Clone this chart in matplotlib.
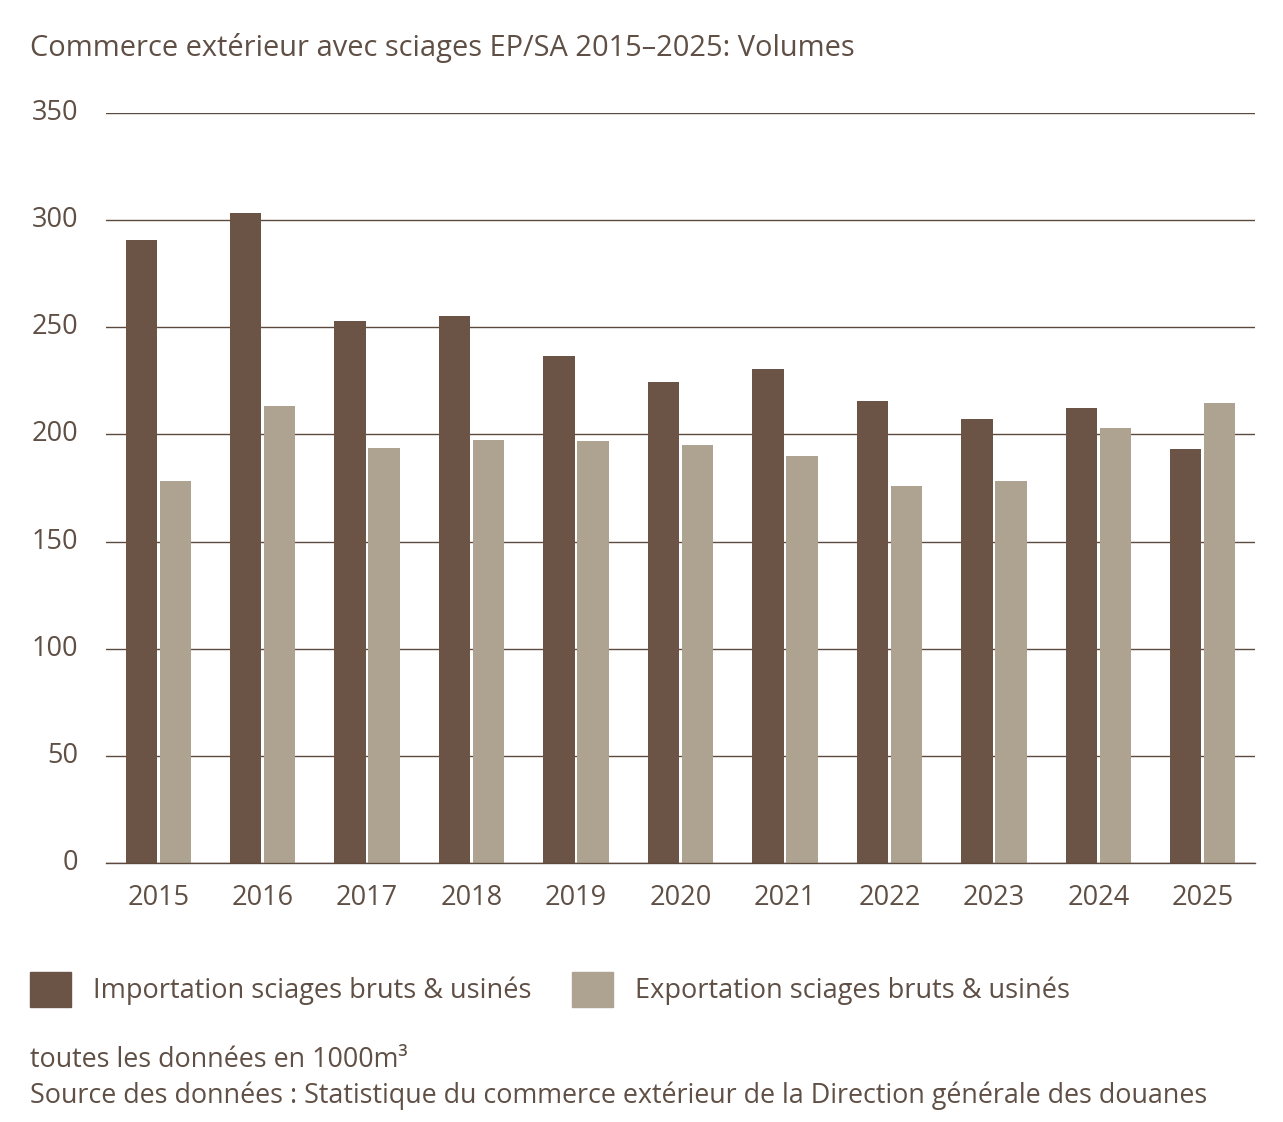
import matplotlib
matplotlib.use("Agg")
import matplotlib.pyplot as plt
from matplotlib.patches import Rectangle
import numpy as np

years = ["2015", "2016", "2017", "2018", "2019", "2020", "2021", "2022", "2023", "2024", "2025"]
imports = [290.7, 303.3, 252.9, 255.3, 236.6, 224.5, 230.5, 215.6, 207.2, 212.3, 193.2]
exports = [178.3, 213.3, 193.7, 197.4, 196.9, 195.1, 189.9, 175.9, 178.3, 203.0, 214.7]
yticks = [0, 50, 100, 150, 200, 250, 300, 350]

title = "Commerce extérieur avec sciages EP/SA 2015–2025: Volumes"
label_imp = "Importation sciages bruts & usinés"
label_exp = "Exportation sciages bruts & usinés"
note1 = "toutes les données en 1000m³"
note2 = "Source des données : Statistique du commerce extérieur de la Direction générale des douanes"

c_imp = "#6B5345"
c_exp = "#ADA390"
c_txt = "#5F4F45"
c_grid = "#5C4A3E"

plt.rcParams['font.family'] = ['Open Sans', 'DejaVu Sans']

W, H = 1283, 1122
fig = plt.figure(figsize=(W / 100, H / 100), dpi=100)
ax = fig.add_axes([106 / W, 1 - 863 / H, (1255 - 106) / W, (863 - 113) / H])

x = np.arange(len(years))
bw = 0.30
off = 0.163
ax.bar(x - off, imports, width=bw, color=c_imp, zorder=3)
ax.bar(x + off, exports, width=bw, color=c_exp, zorder=3)

ax.set_xlim(-0.5, len(years) - 0.5)
ax.set_ylim(0, 350)
ax.set_yticks(yticks)
ax.set_yticklabels([str(v) for v in yticks])
ax.set_xticks(x)
ax.set_xticklabels(years)
ax.tick_params(axis='both', length=0, colors=c_txt, labelsize=19.5)
ax.tick_params(axis='y', pad=20)
ax.tick_params(axis='x', pad=15)
for lab in ax.get_yticklabels():
    lab.set_va('center')
ax.yaxis.grid(True, color=c_grid, linewidth=1.0, zorder=0)
for s in ['top', 'right', 'left']:
    ax.spines[s].set_visible(False)
ax.spines['bottom'].set_color(c_grid)
ax.spines['bottom'].set_linewidth(1.0)
ax.spines['bottom'].set_zorder(4)

fig.text(30 / W, 1 - 48 / H, title, fontsize=20.85, color=c_txt, va='center', ha='left')

# legend
for (x0, col, lab) in [(30, c_imp, label_imp), (572, c_exp, label_exp)]:
    fig.patches.append(Rectangle((x0 / W, 1 - 1007 / H), 41 / W, 35 / H,
                                 transform=fig.transFigure, color=col))
    fig.text((x0 + 63) / W, 1 - 991 / H, lab, fontsize=19.5, color=c_txt,
             va='center', ha='left')

fig.text(30 / W, 1 - 1060 / H, note1, fontsize=19.35, color=c_txt, va='center', ha='left')
fig.text(30 / W, 1 - 1096 / H, note2, fontsize=19.35, color=c_txt, va='center', ha='left')

fig.savefig("out.png", dpi=100, facecolor='white')
